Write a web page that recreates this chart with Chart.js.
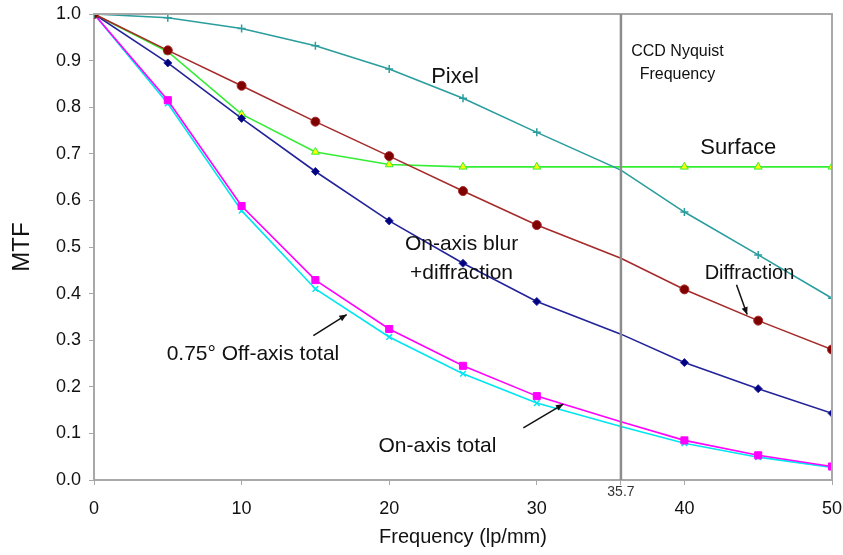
<!DOCTYPE html>
<html>
<head>
<meta charset="UTF-8">
<title>MTF</title>
<style>
  body { margin: 0; background: #fff; }
  #wrap { width: 843px; height: 555px; }
</style>
</head>
<body>
<div id="wrap"><canvas id="mtf"></canvas></div>
<script src="https://cdn.jsdelivr.net/npm/chart.js@4"></script>
<script>
// frequencies (lp/mm) and MTF values
const freq = [0, 5, 10, 15, 20, 25, 30, 35.7, 40, 45, 50];
const pixel = [1, 0.992, 0.969, 0.932, 0.882, 0.819, 0.746, 0.665, 0.575, 0.483, 0.390];
const diffraction = [1, 0.922, 0.846, 0.769, 0.695, 0.620, 0.547, 0.476, 0.409, 0.342, 0.280];
const blurDiffraction = [1, 0.895, 0.776, 0.662, 0.556, 0.465, 0.383, 0.313, 0.252, 0.196, 0.143];
const surface = [1, 0.919, 0.785, 0.704, 0.677, 0.672, 0.672, 0.672, 0.672, 0.672, 0.672];
const onAxisTotal = [1, 0.815, 0.588, 0.429, 0.324, 0.245, 0.180, 0.125, 0.085, 0.053, 0.029];
const offAxisTotal = [1, 0.808, 0.578, 0.410, 0.307, 0.228, 0.165, 0.115, 0.079, 0.049, 0.027];

const xTicks = [0, 10, 20, 30, 35.7, 40, 50];
const yTicks = [0, 0.1, 0.2, 0.3, 0.4, 0.5, 0.6, 0.7, 0.8, 0.9, 1.0];
const nyquist = 35.7;

// text labels on the plot, in data units
const labels = [
  { text: 'Pixel', x: 24.46, y: 0.865, size: 22 },
  { text: 'CCD Nyquist', x: 39.53, y: 0.920, size: 16 },
  { text: 'Frequency', x: 39.53, y: 0.869, size: 16 },
  { text: 'Surface', x: 43.65, y: 0.712, size: 22 },
  { text: 'Diffraction', x: 44.41, y: 0.443, size: 20 },
  { text: 'On-axis blur', x: 24.9, y: 0.505, size: 21 },
  { text: '+diffraction', x: 24.9, y: 0.443, size: 21 },
  { text: '0.75\u00b0 Off-axis total', x: 10.77, y: 0.269, size: 21 },
  { text: 'On-axis total', x: 23.27, y: 0.0717, size: 21 }
];
const arrows = [
  [43.53, 0.419, 44.25, 0.355],
  [14.86, 0.310, 17.12, 0.355],
  [29.09, 0.112, 31.80, 0.163]
];

function pts(vals) {
  return freq.map((f, i) => ({ x: f, y: vals[i] }));
}
function hideAtNyquist(r) {
  return ctx => (ctx.raw && ctx.raw.x === nyquist ? 0 : r);
}
function series(label, vals, color, style, radius, fill) {
  return {
    label: label,
    data: pts(vals),
    borderColor: color,
    backgroundColor: fill || color,
    pointBorderColor: style === 'triangle' ? '#33ee33' : color,
    borderWidth: 1.6,
    pointStyle: style,
    pointRadius: hideAtNyquist(radius),
    pointBorderWidth: style === 'cross' || style === 'crossRot' ? 1.5 : 1,
    tension: 0
  };
}

const FONT = '"Liberation Sans", Arial, sans-serif';

const decor = {
  id: 'decor',
  afterDatasetsDraw(chart) {
    const { ctx, chartArea: a, scales: { x, y } } = chart;
    ctx.save();
    // frame top and right
    ctx.strokeStyle = '#a8a8a8';
    ctx.lineWidth = 2;
    ctx.beginPath();
    ctx.moveTo(a.left, a.top);
    ctx.lineTo(a.right, a.top);
    ctx.lineTo(a.right, a.bottom);
    ctx.stroke();
    // nyquist line
    const nx = x.getPixelForValue(nyquist);
    ctx.strokeStyle = '#8c8c8c';
    ctx.lineWidth = 2.5;
    ctx.beginPath();
    ctx.moveTo(nx, a.top);
    ctx.lineTo(nx, a.bottom);
    ctx.stroke();
    // small tick label for nyquist
    ctx.fillStyle = '#333';
    ctx.font = '14px ' + FONT;
    ctx.textAlign = 'center';
    ctx.textBaseline = 'middle';
    ctx.fillText('35.7', nx, a.bottom + 12);
    // labels
    ctx.fillStyle = '#111';
    labels.forEach(l => {
      ctx.font = l.size + 'px ' + FONT;
      ctx.fillText(l.text, x.getPixelForValue(l.x), y.getPixelForValue(l.y));
    });
    // arrows
    ctx.strokeStyle = '#111';
    ctx.lineWidth = 1.5;
    arrows.forEach(ar => {
      const x1 = x.getPixelForValue(ar[0]), y1 = y.getPixelForValue(ar[1]);
      const x2 = x.getPixelForValue(ar[2]), y2 = y.getPixelForValue(ar[3]);
      const ang = Math.atan2(y2 - y1, x2 - x1);
      ctx.beginPath();
      ctx.moveTo(x1, y1);
      ctx.lineTo(x2, y2);
      ctx.stroke();
      ctx.beginPath();
      ctx.moveTo(x2, y2);
      ctx.lineTo(x2 - 8 * Math.cos(ang - 0.4), y2 - 8 * Math.sin(ang - 0.4));
      ctx.lineTo(x2 - 8 * Math.cos(ang + 0.4), y2 - 8 * Math.sin(ang + 0.4));
      ctx.closePath();
      ctx.fill();
    });
    ctx.restore();
  }
};

new Chart(document.getElementById('mtf'), {
  type: 'line',
  data: {
    datasets: [
      series('Pixel', pixel, '#2a9d9d', 'cross', 4),
      series('Diffraction', diffraction, '#a52a2a', 'circle', 4.5, '#800000'),
      series('On-axis blur +diffraction', blurDiffraction, '#22229a', 'rectRot', 4, '#000080'),
      series('Surface', surface, '#33ee33', 'triangle', 4.5, '#ffff00'),
      series('On-axis total', onAxisTotal, '#ff00ff', 'rect', 5),
      series('0.75\u00b0 Off-axis total', offAxisTotal, '#00e6f0', 'crossRot', 4)
    ]
  },
  options: {
    responsive: true,
    maintainAspectRatio: false,
    animation: false,
    layout: { padding: { top: 14, right: 11, left: 0, bottom: 0 } },
    plugins: { legend: { display: false }, tooltip: { enabled: false } },
    scales: {
      x: {
        type: 'linear',
        min: 0,
        max: 50,
        afterBuildTicks: s => { s.ticks = xTicks.map(v => ({ value: v })); },
        afterFit: s => { s.height = 75; s.paddingLeft = 0; s.paddingRight = 0; },
        grid: { drawOnChartArea: false, drawTicks: true, tickLength: 5, color: '#a8a8a8' },
        border: { color: '#a8a8a8', width: 2 },
        ticks: {
          padding: 13,
          color: '#111',
          font: { size: 18, family: FONT },
          callback: v => (v === nyquist ? '' : String(v))
        },
        title: {
          display: true,
          text: 'Frequency (lp/mm)',
          color: '#111',
          font: { size: 20, family: FONT },
          padding: { top: 0, bottom: 6 }
        }
      },
      y: {
        min: 0,
        max: 1,
        afterBuildTicks: s => { s.ticks = yTicks.map(v => ({ value: v })); },
        afterFit: s => { s.width = 94; s.paddingTop = 0; s.paddingBottom = 0; },
        grid: { drawOnChartArea: false, drawTicks: true, tickLength: 5, color: '#a8a8a8' },
        border: { color: '#a8a8a8', width: 2 },
        ticks: {
          padding: 8,
          color: '#111',
          font: { size: 18, family: FONT },
          callback: v => v.toFixed(1)
        },
        title: {
          display: true,
          text: 'MTF',
          color: '#111',
          font: { size: 24, family: FONT },
          padding: { top: 8, bottom: 4 }
        }
      }
    }
  },
  plugins: [decor]
});
</script>
</body>
</html>
